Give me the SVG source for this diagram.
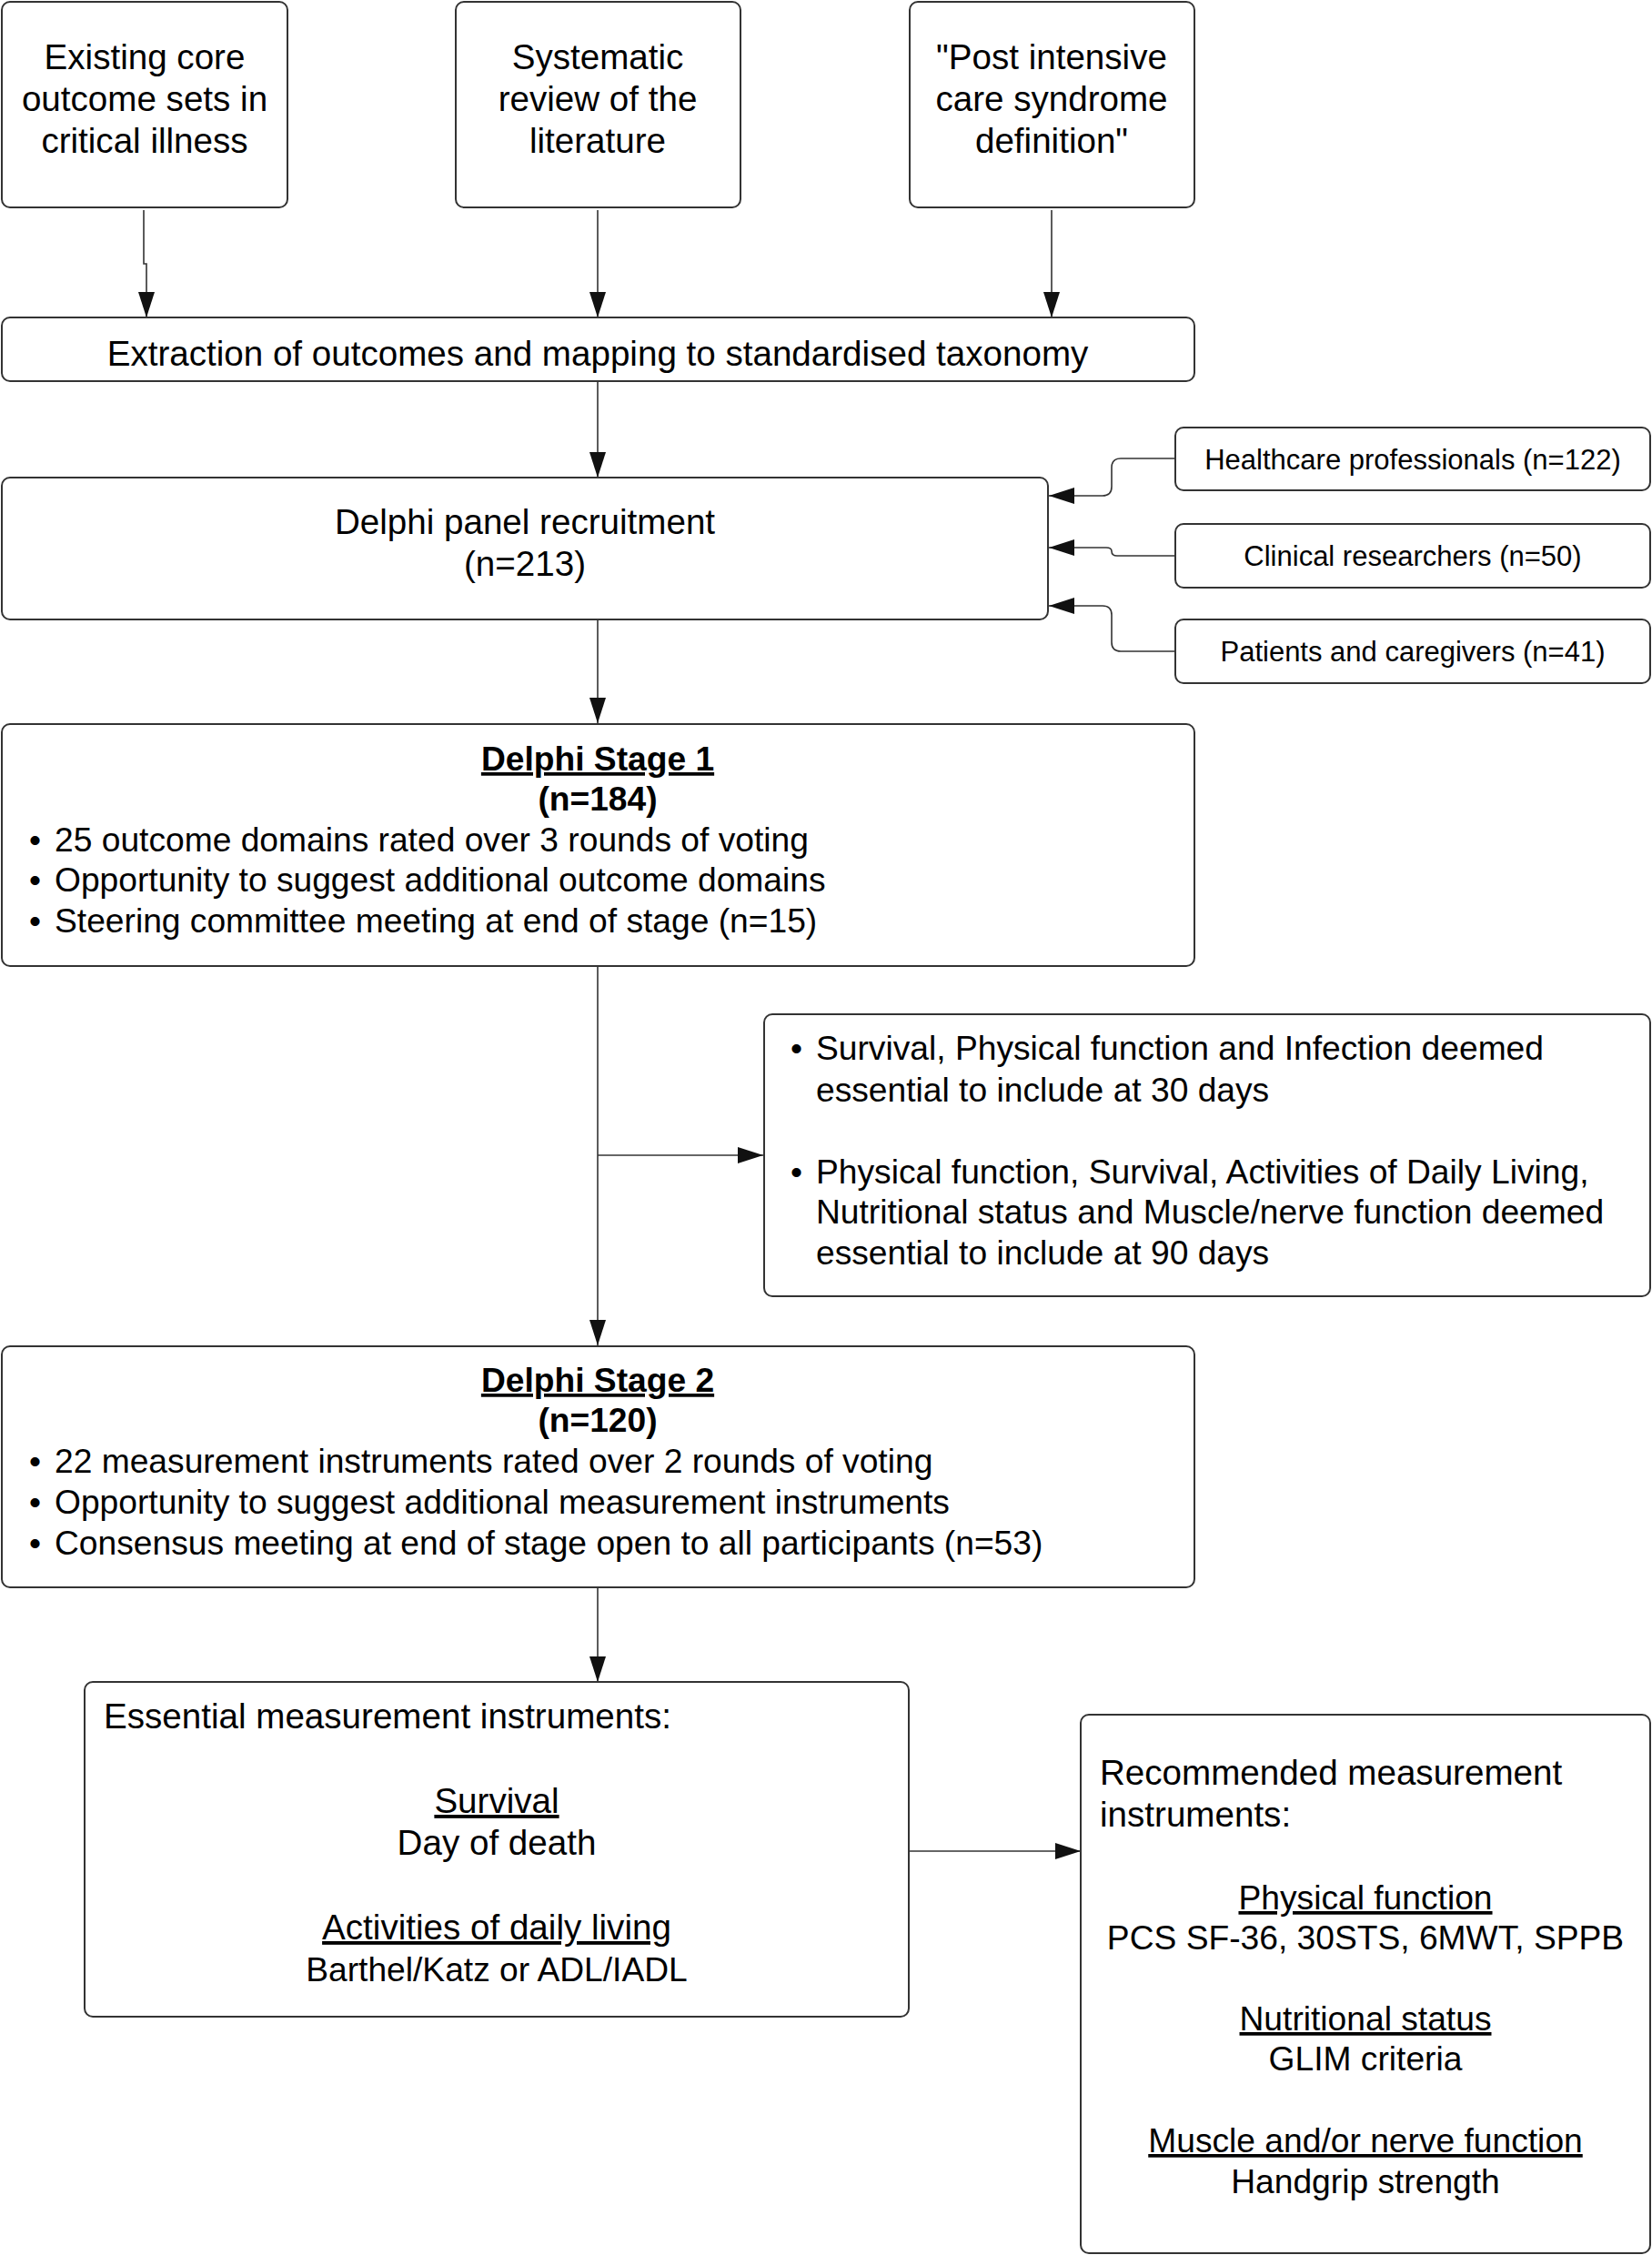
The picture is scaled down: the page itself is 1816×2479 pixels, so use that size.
<svg xmlns="http://www.w3.org/2000/svg" width="1816" height="2479" viewBox="0 0 1816 2479">
<style>
  .box { fill: #ffffff; stroke: #333333; stroke-width: 2; }
  .line { fill: none; stroke: #333333; stroke-width: 1.6; }
  text { font-family: "Liberation Sans", Arial, sans-serif; fill: #000000; }
  .t { font-size: 38.6px; }
  .m { font-size: 37.2px; }
  .s { font-size: 31px; }
  .c { text-anchor: middle; }
  .b { font-weight: bold; }
  .u { text-decoration: underline; }
</style>
<defs>
  <marker id="arr" markerWidth="28" markerHeight="18" refX="28" refY="9" orient="auto" markerUnits="userSpaceOnUse">
    <path d="M0,0 L28,9 L0,18 Z" fill="#111111"/>
  </marker>
</defs>
<rect width="1816" height="2479" fill="#ffffff"/>

<g id="connectors">
  <path class="line" d="M158,231 V290 H161 V349" marker-end="url(#arr)"/>
  <path class="line" d="M657,231 V349" marker-end="url(#arr)"/>
  <path class="line" d="M1156,231 V349" marker-end="url(#arr)"/>
  <path class="line" d="M657,419 V525" marker-end="url(#arr)"/>
  <path class="line" d="M1292,504 H1232 Q1222,504 1222,514 V535 Q1222,545 1212,545 H1153" marker-end="url(#arr)"/>
  <path class="line" d="M1292,611 H1228 Q1222,611 1222,606 Q1222,602 1216,602 H1153" marker-end="url(#arr)"/>
  <path class="line" d="M1292,716 H1232 Q1222,716 1222,706 V676 Q1222,666 1212,666 H1153" marker-end="url(#arr)"/>
  <path class="line" d="M657,681 V795" marker-end="url(#arr)"/>
  <path class="line" d="M657,1062 V1479" marker-end="url(#arr)"/>
  <path class="line" d="M657,1270 H839" marker-end="url(#arr)"/>
  <path class="line" d="M657,1745 V1849" marker-end="url(#arr)"/>
  <path class="line" d="M999,2035 H1188" marker-end="url(#arr)"/>
</g>

<g id="node-existing">
  <rect class="box" x="2" y="2" width="314" height="226" rx="9"/>
  <text class="t c" x="159" y="76">Existing core</text>
  <text class="t c" x="159" y="122">outcome sets in</text>
  <text class="t c" x="159" y="168">critical illness</text>
</g>
<g id="node-review">
  <rect class="box" x="501" y="2" width="313" height="226" rx="9"/>
  <text class="t c" x="657" y="76">Systematic</text>
  <text class="t c" x="657" y="122">review of the</text>
  <text class="t c" x="657" y="168">literature</text>
</g>
<g id="node-pics">
  <rect class="box" x="1000" y="2" width="313" height="226" rx="9"/>
  <text class="t c" x="1156" y="76">"Post intensive</text>
  <text class="t c" x="1156" y="122">care syndrome</text>
  <text class="t c" x="1156" y="168">definition"</text>
</g>
<g id="node-extraction">
  <rect class="box" x="2" y="349" width="1311" height="70" rx="9"/>
  <text class="t c" x="657" y="402">Extraction of outcomes and mapping to standardised taxonomy</text>
</g>
<g id="node-recruitment">
  <rect class="box" x="2" y="525" width="1150" height="156" rx="9"/>
  <text class="t c" x="577" y="587">Delphi panel recruitment</text>
  <text class="t c" x="577" y="633">(n=213)</text>
</g>
<g id="node-hcp">
  <rect class="box" x="1292" y="470" width="522" height="69" rx="9"/>
  <text class="s c" x="1553" y="516">Healthcare professionals (n=122)</text>
</g>
<g id="node-researchers">
  <rect class="box" x="1292" y="576" width="522" height="70" rx="9"/>
  <text class="s c" x="1553" y="622">Clinical researchers (n=50)</text>
</g>
<g id="node-patients">
  <rect class="box" x="1292" y="681" width="522" height="70" rx="9"/>
  <text class="s c" x="1553" y="727">Patients and caregivers (n=41)</text>
</g>
<g id="node-stage1">
  <rect class="box" x="2" y="796" width="1311" height="266" rx="9"/>
  <text class="m c b u" x="657" y="847">Delphi Stage 1</text>
  <text class="m c b" x="657" y="891">(n=184)</text>
  <text class="m" x="32" y="936">•</text><text class="m" x="60" y="936">25 outcome domains rated over 3 rounds of voting</text>
  <text class="m" x="32" y="980">•</text><text class="m" x="60" y="980">Opportunity to suggest additional outcome domains</text>
  <text class="m" x="32" y="1025">•</text><text class="m" x="60" y="1025">Steering committee meeting at end of stage (n=15)</text>
</g>
<g id="node-essential-domains">
  <rect class="box" x="840" y="1115" width="974" height="310" rx="9"/>
  <text class="m" x="869" y="1165">•</text><text class="m" x="897" y="1165">Survival, Physical function and Infection deemed</text>
  <text class="m" x="897" y="1211">essential to include at 30 days</text>
  <text class="m" x="869" y="1301">•</text><text class="m" x="897" y="1301">Physical function, Survival, Activities of Daily Living,</text>
  <text class="m" x="897" y="1345">Nutritional status and Muscle/nerve function deemed</text>
  <text class="m" x="897" y="1390">essential to include at 90 days</text>
</g>
<g id="node-stage2">
  <rect class="box" x="2" y="1480" width="1311" height="265" rx="9"/>
  <text class="m c b u" x="657" y="1530">Delphi Stage 2</text>
  <text class="m c b" x="657" y="1574">(n=120)</text>
  <text class="m" x="32" y="1619">•</text><text class="m" x="60" y="1619">22 measurement instruments rated over 2 rounds of voting</text>
  <text class="m" x="32" y="1664">•</text><text class="m" x="60" y="1664">Opportunity to suggest additional measurement instruments</text>
  <text class="m" x="32" y="1709">•</text><text class="m" x="60" y="1709">Consensus meeting at end of stage open to all participants (n=53)</text>
</g>
<g id="node-essential-instruments">
  <rect class="box" x="93" y="1849" width="906" height="368" rx="9"/>
  <text class="t" x="114" y="1900">Essential measurement instruments:</text>
  <text class="t c u" x="546" y="1993">Survival</text>
  <text class="t c" x="546" y="2039">Day of death</text>
  <text class="t c u" x="546" y="2132">Activities of daily living</text>
  <text class="m c" x="546" y="2178">Barthel/Katz or ADL/IADL</text>
</g>
<g id="node-recommended">
  <rect class="box" x="1188" y="1885" width="626" height="592" rx="9"/>
  <text class="t" x="1209" y="1962">Recommended measurement</text>
  <text class="t" x="1209" y="2008">instruments:</text>
  <text class="m c u" x="1501" y="2099">Physical function</text>
  <text class="m c" x="1501" y="2143">PCS SF-36, 30STS, 6MWT, SPPB</text>
  <text class="m c u" x="1501" y="2232">Nutritional status</text>
  <text class="m c" x="1501" y="2276">GLIM criteria</text>
  <text class="m c u" x="1501" y="2366">Muscle and/or nerve function</text>
  <text class="m c" x="1501" y="2411">Handgrip strength</text>
</g>
</svg>
